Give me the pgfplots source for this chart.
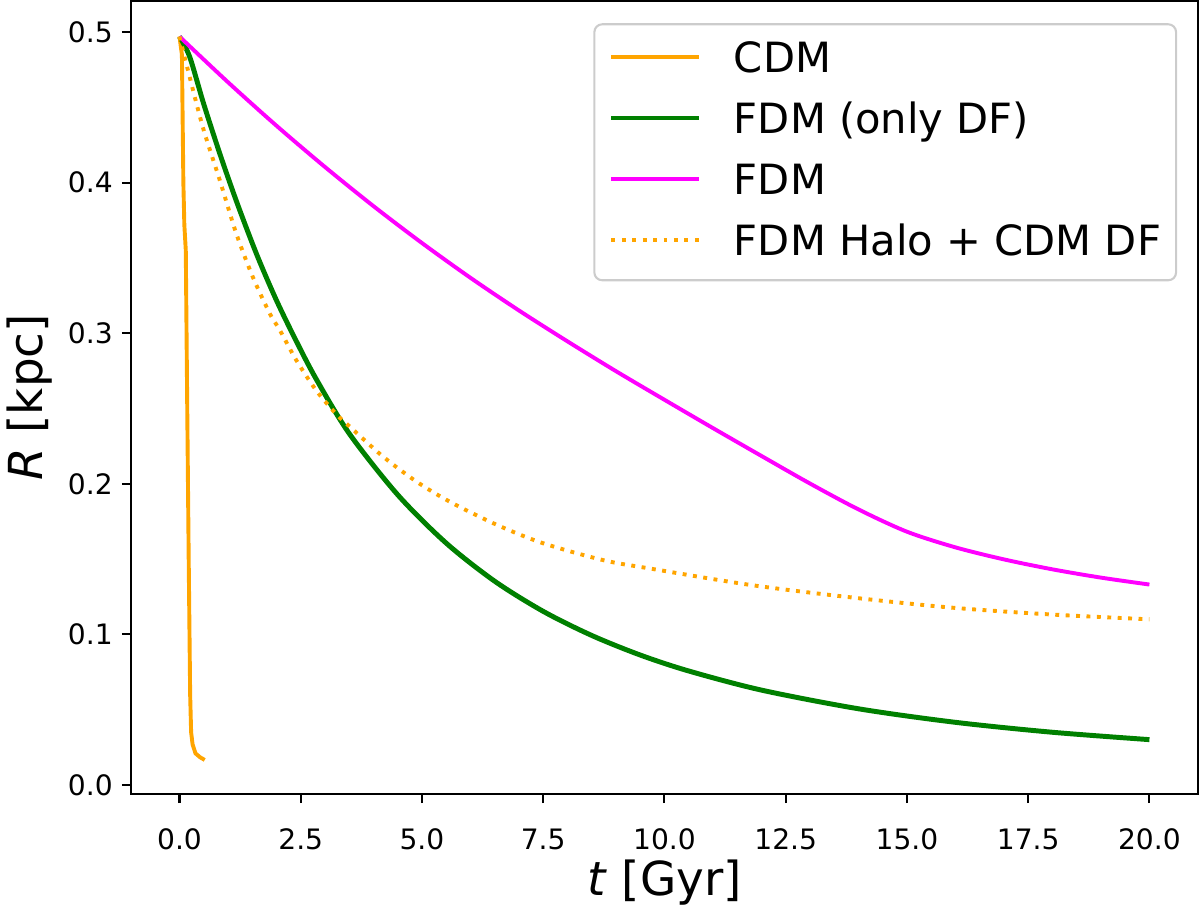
\documentclass[border=0pt]{standalone}
\usepackage{fontspec}
\setmainfont{DejaVu Sans}
\usepackage{pgfplots}
\pgfplotsset{compat=1.18}
\definecolor{mplorange}{RGB}{255,165,0}
\definecolor{mplgreen}{RGB}{0,128,0}
\definecolor{mplmagenta}{RGB}{255,0,255}
\begin{document}
\begin{tikzpicture}
\begin{axis}[
  scale only axis, width=409.7pt, height=304.5pt,
  xmin=-1, xmax=21, ymin=-0.006, ymax=0.5206,
  xtick={0,2.5,5,7.5,10,12.5,15,17.5,20},
  ytick={0,0.1,0.2,0.3,0.4,0.5},
  /pgf/number format/assume math mode=true,
  tick label style={font=\fontsize{10.8}{12}\selectfont},
  xticklabel style={anchor=base, yshift=-18pt, /pgf/number format/.cd, fixed, fixed zerofill, precision=1},
  yticklabel style={/pgf/number format/.cd, fixed, fixed zerofill, precision=1},
  scaled y ticks=false,
  tick align=outside, tick pos=left,
  major tick length=3.5pt,
  major tick style={line width=0.8pt, black},
  axis line style={line width=0.8pt, black},
  xlabel={\textit{t} [Gyr]}, ylabel={\textit{R} [kpc]},
  label style={font=\fontsize{18}{21}\selectfont},
  xlabel style={at={(axis description cs:0.5,-0.1274)}, anchor=base},
  ylabel style={at={(axis description cs:-0.0947,0.5)}, anchor=center},
  legend cell align=left,
  legend image code/.code={\draw[#1] (0pt,1.35pt) -- (33.6pt,1.35pt);},
  legend style={
    at={(0.9805,0.972)}, anchor=north east,
    font=\fontsize{16}{19}\selectfont,
    draw=white!80!black, line width=0.8pt, rounded corners=3pt,
    fill=white, fill opacity=0.8, text opacity=1,
    inner xsep=5.8pt, inner ysep=6.85pt,
    row sep=9pt,
    nodes={inner xsep=0pt, inner ysep=0pt, text height=11.7pt, text depth=2.7pt},
    /tikz/every odd column/.append style={column sep=12.7pt},
  },
]
\addlegendimage{mplorange, line width=1.5pt}
\addlegendentry{CDM}
\addlegendimage{mplgreen, line width=1.5pt}
\addlegendentry{FDM (only DF)}
\addlegendimage{mplmagenta, line width=1.5pt}
\addlegendentry{FDM}
\addlegendimage{mplorange, line width=1.5pt, dash pattern=on 1.5pt off 2.5pt}
\addlegendentry{FDM Halo + CDM DF}

% CDM
\addplot[forget plot, mplorange, line width=1.5pt] coordinates {
(0,0.497) (0.05,0.485) (0.08,0.40) (0.10,0.372) (0.13,0.355) (0.16,0.25)
(0.19,0.15) (0.22,0.06) (0.24,0.035) (0.27,0.027) (0.33,0.021) (0.42,0.0185) (0.52,0.0166)
};
% FDM (only DF)
\addplot[forget plot, mplgreen, line width=1.9pt, smooth, tension=0.5] coordinates {
(0,0.497) (0.21,0.4836) (0.5,0.4522) (0.85,0.4175) (1.2,0.3854) (1.6,0.3517)
(2.0,0.3218) (2.4,0.2953) (2.82,0.2695) (3.5,0.2334) (4.5,0.1927) (5.5,0.1606)
(6.5,0.1353) (7.5,0.1153) (8.5,0.0993) (9.5,0.0863) (10.5,0.0757) (12,0.0630)
(14,0.0506) (16,0.0416) (18,0.0350) (20,0.0301)
};
% FDM
\addplot[forget plot, mplmagenta, line width=1.5pt, smooth, tension=0.5] coordinates {
(0,0.497) (1,0.4667) (2,0.4378) (3,0.4104) (4,0.3844) (5,0.3599) (6,0.3368)
(7,0.3151) (8,0.2946) (9,0.2748) (10,0.2558) (11,0.2370) (12,0.2185)
(13,0.2002) (14,0.1830) (15,0.1682) (16,0.1578) (17,0.1498) (18,0.1432)
(19,0.1377) (20,0.1331)
};
% FDM Halo + CDM DF
\addplot[forget plot, mplorange, line width=1.5pt, dash pattern=on 1.5pt off 2.5pt, smooth, tension=0.5] coordinates {
(0,0.497) (0.14,0.479) (0.48,0.437) (0.83,0.4017) (1.17,0.3663) (1.51,0.3375)
(1.86,0.3132) (2.07,0.302) (2.41,0.282) (2.82,0.262) (3.24,0.246) (3.51,0.238)
(4.20,0.218) (4.89,0.2014) (5.58,0.188) (6.54,0.1728) (7.5,0.1605) (8.75,0.1492)
(9.71,0.1437) (11.78,0.1328) (13.84,0.1246) (15.91,0.1178) (17.98,0.1132) (20,0.110)
};
\end{axis}
\pgfresetboundingbox
\path[use as bounding box] (-50.3pt,-42.6pt) rectangle (410.5pt,304.9pt);
\end{tikzpicture}
\end{document}
